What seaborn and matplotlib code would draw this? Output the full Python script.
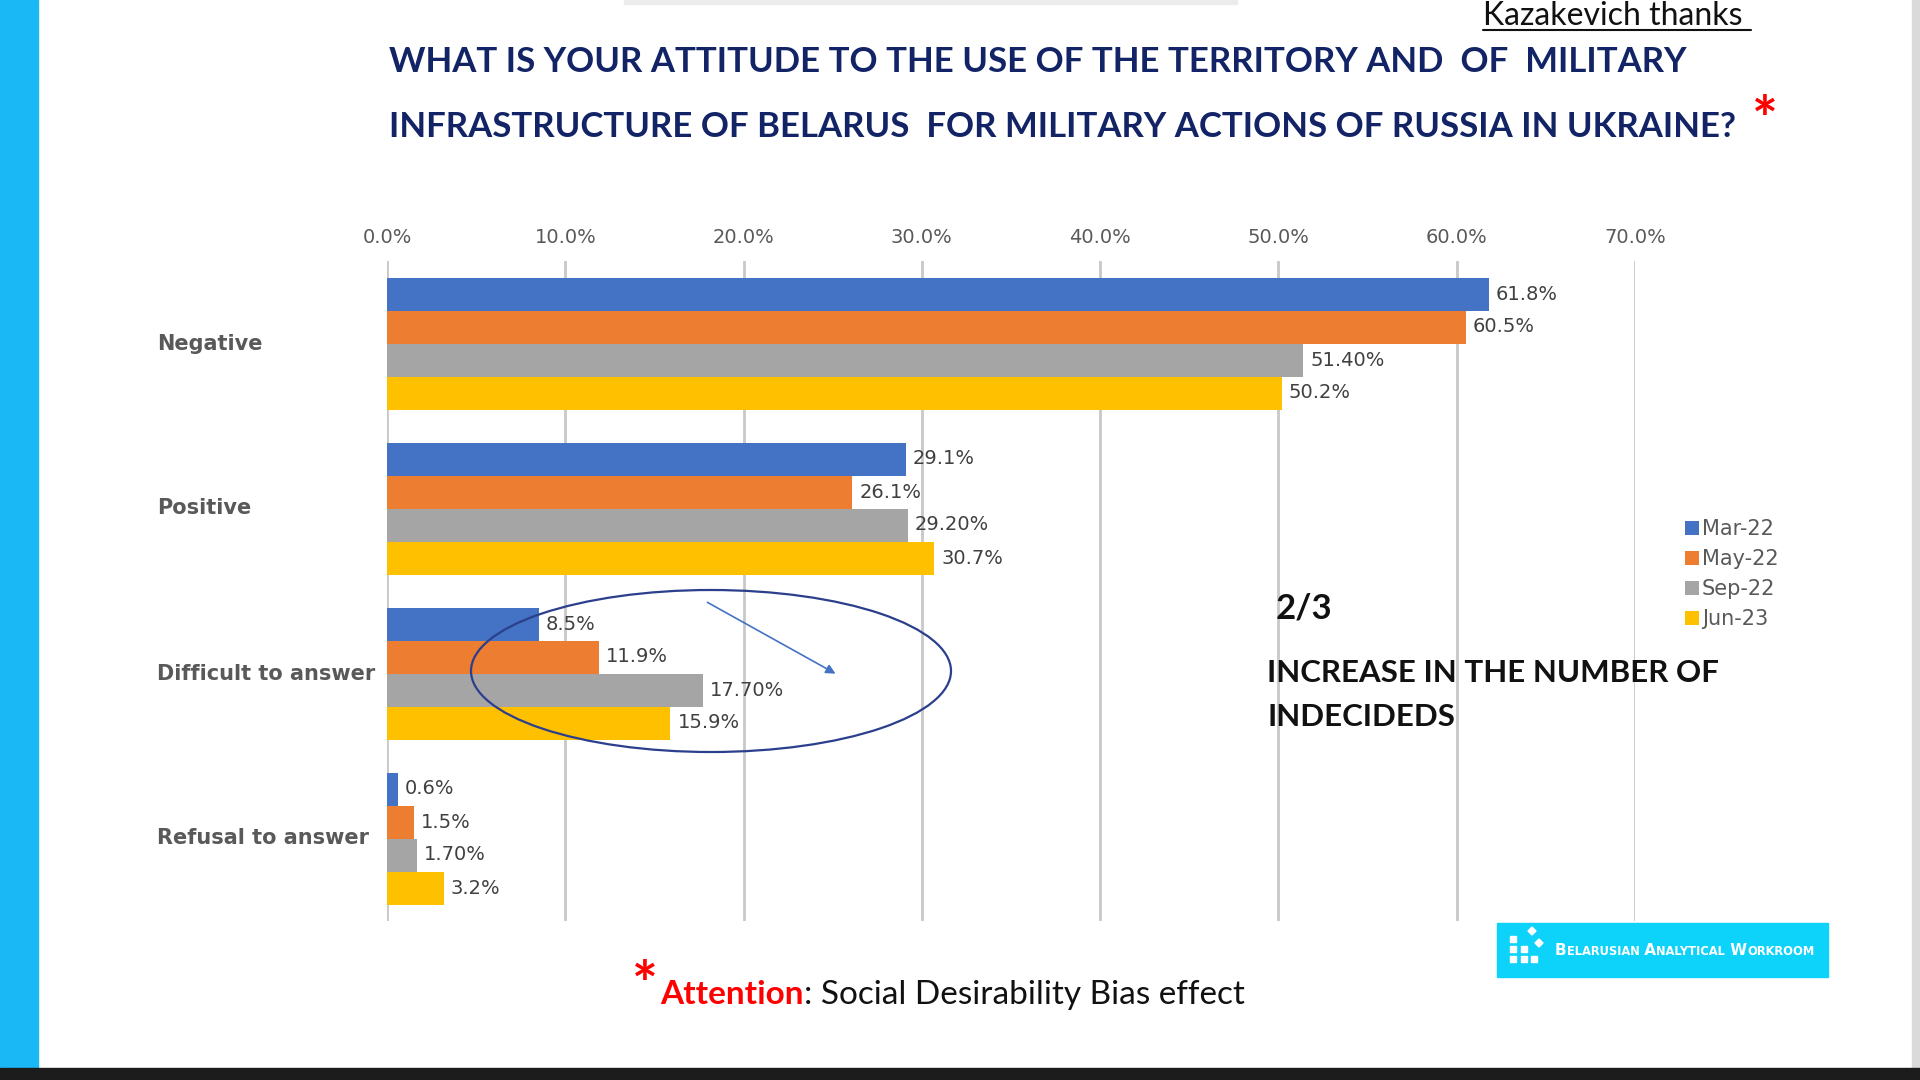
import matplotlib
matplotlib.use("Agg")
import matplotlib.pyplot as plt
import matplotlib.transforms as mtransforms
import seaborn as sns
import pandas as pd
from matplotlib.patches import Rectangle, Ellipse, FancyArrowPatch, Polygon
from matplotlib.ticker import FuncFormatter

# ---------------- data ----------------
categories = ["Negative", "Positive", "Difficult to answer", "Refusal to answer"]
periods = ["Mar-22", "May-22", "Sep-22", "Jun-23"]
mar22 = [61.8, 29.1, 8.5, 0.6]
may22 = [60.5, 26.1, 11.9, 1.5]
sep22 = [51.4, 29.2, 17.7, 1.7]
jun23 = [50.2, 30.7, 15.9, 3.2]
labels_mar22 = ["61.8%", "29.1%", "8.5%", "0.6%"]
labels_may22 = ["60.5%", "26.1%", "11.9%", "1.5%"]
labels_sep22 = ["51.40%", "29.20%", "17.70%", "1.70%"]
labels_jun23 = ["50.2%", "30.7%", "15.9%", "3.2%"]
x_ticks = [0, 10, 20, 30, 40, 50, 60, 70]
colors = ["#4472C4", "#ED7D31", "#A5A5A5", "#FFC000"]

series = [mar22, may22, sep22, jun23]
value_labels = [labels_mar22, labels_may22, labels_sep22, labels_jun23]
rows = []
for p, vals in zip(periods, series):
    for c, v in zip(categories, vals):
        rows.append({"category": c, "period": p, "value": v})
df = pd.DataFrame(rows)

sns.set_theme(style="white")
plt.rcParams["font.family"] = ["DejaVu Sans"]

W, H = 1920, 1080
fx = lambda px: px / W
fy = lambda py: 1 - py / H

fig = plt.figure(figsize=(19.2, 10.8), dpi=100)
fig.patch.set_facecolor("white")
renderer = fig.canvas.get_renderer()

ax = fig.add_axes([fx(387), fy(921), fx(1635) - fx(387), fy(261) - fy(921)])
sns.barplot(data=df, y="category", x="value", hue="period", orient="h",
            order=categories, hue_order=periods, palette=colors,
            saturation=1, width=0.8, errorbar=None, linewidth=0, ax=ax)

ax.set_xlim(0, 70)
ax.set_ylim(3.5, -0.5)
ax.xaxis.tick_top()
ax.set_xticks(x_ticks)
ax.xaxis.set_major_formatter(FuncFormatter(lambda v, p: f"{v:.1f}%"))
ax.tick_params(axis="x", length=0, pad=10, labelsize=14, labelcolor="#595959")
ax.set_yticks(range(len(categories)))
ax.set_yticklabels([])
ax.tick_params(axis="y", length=0)
ax.set_xlabel("")
ax.set_ylabel("")
for s in ax.spines.values():
    s.set_visible(False)
ax.grid(axis="x", color="#C8C8C8", lw=2)
ax.grid(axis="y", visible=False)
ax.set_axisbelow(True)

# category labels, left aligned
blend = mtransforms.blended_transform_factory(fig.transFigure, ax.transData)
for i, c in enumerate(categories):
    ax.text(fx(157), i, c, transform=blend, ha="left", va="center",
            fontsize=15, fontweight="bold", color="#595959")

# value labels
for cont, labs in zip(ax.containers, value_labels):
    ax.bar_label(cont, labels=labs, padding=5, fontsize=14, color="#404040")

# legend
leg = ax.get_legend()
if leg is not None:
    leg.remove()
h, l = ax.get_legend_handles_labels()
fig.legend(h, l, loc="upper left", bbox_to_anchor=(fx(1685), fy(519)),
           frameon=False, fontsize=15, labelcolor="#595959",
           handlelength=0.65, handleheight=0.65, handletextpad=0.15,
           labelspacing=0.48, borderaxespad=0, borderpad=0)


def chain(pieces, x0, y, **common):
    """Place text pieces one after another on one baseline (pixel coords)."""
    x = x0
    for text, kw in pieces:
        opts = dict(common)
        opts.update(kw)
        t = fig.text(fx(x), fy(y), text, ha="left", va="baseline", **opts)
        x = t.get_window_extent(renderer).x1
    return x


# ---------------- decorations ----------------
fig.patches.append(Rectangle((0, 0), fx(38), 1, transform=fig.transFigure,
                             color="#1AB8F5", zorder=0))
fig.patches.append(Rectangle((0, 0), 1, 12 / H, transform=fig.transFigure,
                             color="#1C1C1C", zorder=5))
fig.patches.append(Rectangle((fx(1912), 12 / H), 8 / W, 1, transform=fig.transFigure,
                             color="#DADADA", zorder=0))
fig.patches.append(Rectangle((fx(624), fy(4)), (1237 - 624) / W, 4 / H,
                             transform=fig.transFigure, color="#ECECEC", zorder=0))

# title
title_kw = dict(fontsize=25, fontweight="bold", color="#132466",
                family=["Lato", "DejaVu Sans"])
chain([("WHAT IS YOUR ATTITUDE TO THE USE OF THE TERRITORY AND  OF  MILITARY", {})],
      389, 72, **title_kw)
xe = chain([("INFRASTRUCTURE OF BELARUS  FOR MILITARY ACTIONS OF RUSSIA IN UKRAINE?", {})],
           389, 137, **title_kw)
fig.text(fx(xe + 16), fy(141), "*", fontsize=44, fontweight="bold", color="#FF0000",
         ha="left", va="baseline", family=["Lato", "DejaVu Sans"])

# Kazakevich thanks
fig.text(fx(1483), fy(16), "Kazakevich thanks", fontsize=23,
         family=["Lato", "DejaVu Sans"], color="#111111", ha="left", va="center")
fig.lines.append(plt.Line2D([fx(1483), fx(1751)], [fy(30), fy(30)],
                            transform=fig.transFigure, color="#111111", lw=1.5))

# annotation text
ann_kw = dict(family=["Lato", "DejaVu Sans"], fontweight="bold", color="#111111",
              ha="left", va="center")
fig.text(fx(1276), fy(609), "2/3", fontsize=25, **ann_kw)
fig.text(fx(1267), fy(673), "INCREASE IN THE NUMBER OF", fontsize=22.5, **ann_kw)
fig.text(fx(1267), fy(717), "INDECIDEDS", fontsize=22.5, **ann_kw)

# ellipse and arrow
fig.patches.append(Ellipse((fx(711), fy(671)), 480 / W, 162 / H,
                           transform=fig.transFigure, fill=False,
                           edgecolor="#2B3F8C", lw=1.6, zorder=6))
fig.patches.append(FancyArrowPatch((fx(705), fy(601)), (fx(838), fy(675)),
                                   transform=fig.transFigure, arrowstyle="-|>",
                                   mutation_scale=14, color="#4472C4", lw=1.2, zorder=6))

# bottom note
fig.text(fx(632), fy(1006), "*", fontsize=44, fontweight="bold", color="#FF0000",
         ha="left", va="baseline", family=["Lato", "DejaVu Sans"])
chain([("Attention", dict(fontweight="bold", color="#FF0000")),
       (": Social Desirability Bias effect", dict(color="#111111"))],
      660, 1004, fontsize=24, family=["Lato", "DejaVu Sans"])

# logo
fig.patches.append(Rectangle((fx(1497), fy(977)), (1828 - 1497) / W, (977 - 923) / H,
                             transform=fig.transFigure, color="#0DD3FA", zorder=2))
sq = 6
for (cx, cy) in [(1513, 939), (1513, 949), (1524, 949), (1513, 959), (1524, 959), (1534, 959)]:
    fig.patches.append(Rectangle((fx(cx - sq / 2), fy(cy + sq / 2)), sq / W, sq / H,
                                 transform=fig.transFigure, color="white", zorder=3))
for (cx, cy) in [(1532, 931), (1539, 943)]:
    d = 4
    fig.patches.append(Polygon([(fx(cx - d), fy(cy)), (fx(cx), fy(cy - d)),
                                (fx(cx + d), fy(cy)), (fx(cx), fy(cy + d))],
                               closed=True, transform=fig.transFigure,
                               color="white", zorder=3))
for yy in [936, 964]:
    fig.lines.append(plt.Line2D([fx(1554), fx(1817)], [fy(yy), fy(yy)],
                                transform=fig.transFigure, color="white", lw=1))
big = dict(fontsize=11)
small = dict(fontsize=8.3)
chain([("B", big), ("ELARUSIAN", small), (" A", big), ("NALYTICAL", small),
       (" W", big), ("ORKROOM", small)],
      1555, 955, fontweight="bold", color="white", zorder=4)

fig.savefig("out.png", dpi=100, facecolor="white")
